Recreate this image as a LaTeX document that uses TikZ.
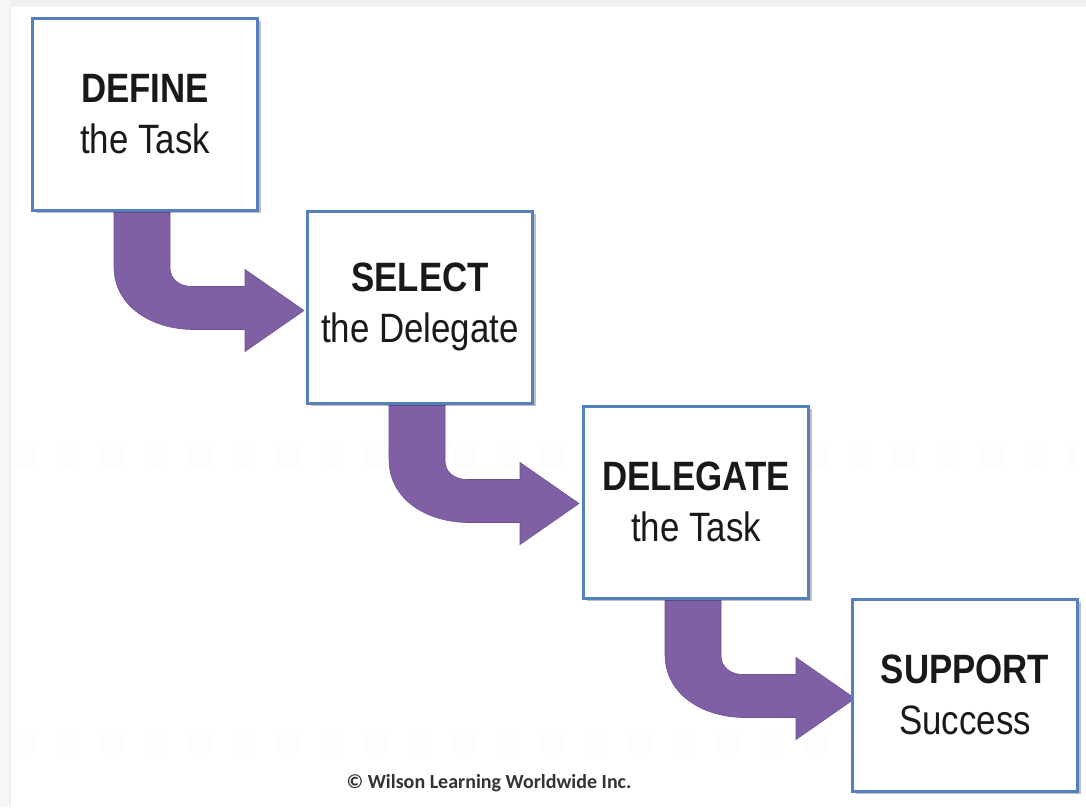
\documentclass[tikz,border=0pt]{standalone}
\usepackage{fontspec}
\setmainfont{Liberation Sans}
\newfontfamily\boxfont{Liberation Sans}[FakeStretch=0.85]
\newfontfamily\cfont{Carlito}
\usetikzlibrary{shadows,calc}
\definecolor{boxblue}{RGB}{84,128,190}
\definecolor{arrowpurple}{RGB}{128,96,164}
\definecolor{arrowedge}{RGB}{108,80,145}
\definecolor{txt}{RGB}{25,25,25}
\pgfdeclarelayer{bg}
\pgfsetlayers{bg,main}
\begin{document}
\begin{tikzpicture}[x=1pt,y=-1pt,
  stepbox/.style={draw=boxblue, line width=3pt, fill=white,
    minimum width=225pt, minimum height=192pt, inner sep=0pt,
    align=center, text=txt, font=\boxfont\fontsize{41}{51}\selectfont,
    drop shadow={shadow xshift=3pt, shadow yshift=-3pt, fill=black, opacity=0.25}},
  bendarrow/.pic={
    \fill[arrowpurple, draw=arrowedge, line width=0.6pt]
      (0,-4) -- (0,55) .. controls (0,95) and (38,118) .. (80,118)
      -- (131,118) -- (131,140) -- (190,99) -- (131,58) -- (131,75)
      -- (78,75) .. controls (66,75) and (56,68) .. (56,56)
      -- (56,-4) -- cycle;},
  note/.style={font=\cfont\bfseries\fontsize{20}{24}\selectfont, text=black!80}
]
\useasboundingbox (0,0) rectangle (1086,807);

\node[stepbox] (b1) at (145,114) {\textbf{DEFINE}\\the Task};
\node[stepbox] (b2) at (420,307) {\textbf{SELECT}\\the Delegate};
\node[stepbox] (b3) at (696,502) {\textbf{DELEGATE}\\the Task};
\node[stepbox] (b4) at (965,695) {\textbf{SUPPORT}\\Success};

\node[note] (copy) at (489,783) {© Wilson Learning Worldwide Inc.};

\begin{pgfonlayer}{bg}
  \fill[white] (0,0) rectangle (1086,807);
  \fill[gray!12] (0,0) rectangle (1086,7);
  \fill[gray!6] (0,0) rectangle (11,807);
  \draw[gray!12, line width=1.5pt] (10,7) -- (10,807);
  \draw[gray!1.5, line width=23pt, dash pattern=on 22pt off 22pt] (13,457) -- (1075,457);
  \draw[gray!1.5, line width=23pt, dash pattern=on 22pt off 22pt] (13,741) -- (1075,741);
  \pic at ($(b1.south west)+(83,0)$) {bendarrow};
  \pic at ($(b2.south west)+(83,0)$) {bendarrow};
  \pic at ($(b3.south west)+(83,0)$) {bendarrow};
\end{pgfonlayer}
\end{tikzpicture}
\end{document}
